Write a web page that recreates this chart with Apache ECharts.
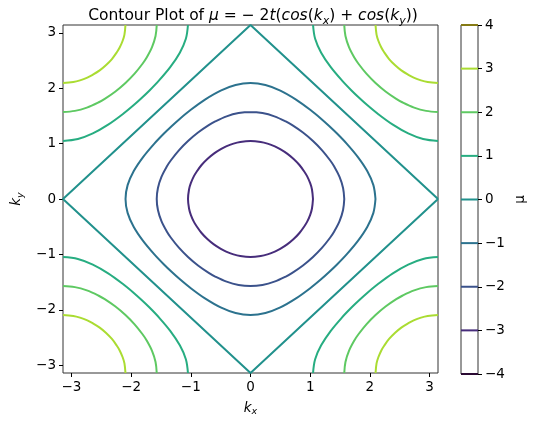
<!DOCTYPE html>
<html>
<head>
<meta charset="utf-8">
<script src="https://cdn.jsdelivr.net/npm/echarts@6/dist/echarts.min.js"></script>
<style>
  html, body { margin: 0; padding: 0; background: #fff; }
  #chart { width: 534px; height: 421px; }
</style>
</head>
<body>
<div id="chart"></div>
<script>
// Contour levels of mu and the colorbar range
const levels = [-3, -2, -1, 0, 1, 2, 3];
const colorbarLevels = [-4, -3, -2, -1, 0, 1, 2, 3, 4];
const tickValues = [-3, -2, -1, 0, 1, 2, 3];
const PI = Math.PI;

// First-quadrant pieces of the closed contours around Gamma, [kx, ky] from the kx axis to the ky axis
const arcMinus3 = [[1.047, 0], [1.03, 0.172], [1.0, 0.285], [0.95, 0.408], [0.9, 0.497], [0.82, 0.614],
  [0.723, 0.723], [0.614, 0.82], [0.497, 0.9], [0.408, 0.95], [0.285, 1.0], [0.172, 1.03], [0, 1.047]];
const arcMinus2 = [[1.571, 0], [1.551, 0.2], [1.492, 0.4], [1.4, 0.591], [1.333, 0.7], [1.2, 0.879],
  [1.047, 1.047], [0.879, 1.2], [0.7, 1.333], [0.591, 1.4], [0.4, 1.492], [0.2, 1.551], [0, 1.571]];
const arcMinus1 = [[2.094, 0], [2.059, 0.25], [1.958, 0.5], [1.8, 0.756], [1.611, 1.0], [1.45, 1.182],
  [1.318, 1.318], [1.182, 1.45], [1.0, 1.611], [0.756, 1.8], [0.5, 1.958], [0.25, 2.059], [0, 2.094]];
const arcZero = [[3.1416, 0], [0, 3.1416]];

// Pieces near the (pi, pi) corner of the first quadrant
const arcPlus1 = [[1.048, 3.1416], [1.083, 2.892], [1.184, 2.642], [1.342, 2.385], [1.531, 2.142], [1.692, 1.96],
  [1.824, 1.824], [1.96, 1.692], [2.142, 1.531], [2.385, 1.342], [2.642, 1.184], [2.892, 1.083], [3.1416, 1.048]];
const arcPlus2 = [[1.571, 3.1416], [1.591, 2.942], [1.65, 2.742], [1.742, 2.55], [1.809, 2.442], [1.942, 2.263],
  [2.095, 2.095], [2.263, 1.942], [2.442, 1.809], [2.55, 1.742], [2.742, 1.65], [2.942, 1.591], [3.1416, 1.571]];
const arcPlus3 = [[2.095, 3.1416], [2.112, 2.969], [2.142, 2.857], [2.192, 2.734], [2.242, 2.645], [2.322, 2.527],
  [2.419, 2.419], [2.527, 2.322], [2.645, 2.242], [2.734, 2.192], [2.857, 2.142], [2.969, 2.112], [3.1416, 2.095]];

// viridis colours for -4 ... 4
const viridis = {
  '-4': '#440154', '-3': '#472d7b', '-2': '#3b528b', '-1': '#2c728e',
  '0': '#21918c', '1': '#27ad81', '2': '#5ec962', '3': '#aadc32', '4': '#fde725'
};
// the end lines of the colorbar sit on its frame and blend with it
const frameBlend = { '-4': '#2a0a33', '4': '#857a14' };

const closedArcs = { '-3': arcMinus3, '-2': arcMinus2, '-1': arcMinus1, '0': arcZero };
const cornerArcs = { '1': arcPlus1, '2': arcPlus2, '3': arcPlus3 };

// Reflect a first-quadrant arc into a closed loop around the origin
function closedLoop(q) {
  const pts = [];
  q.forEach(p => pts.push([p[0], p[1]]));
  q.slice(0, -1).reverse().forEach(p => pts.push([-p[0], p[1]]));
  q.slice(1).forEach(p => pts.push([-p[0], -p[1]]));
  q.slice(0, -1).reverse().forEach(p => pts.push([p[0], -p[1]]));
  return pts;
}

const series = [];
levels.forEach(L => {
  const key = String(L);
  if (closedArcs[key]) {
    series.push({
      type: 'line', xAxisIndex: 0, yAxisIndex: 0,
      data: closedLoop(closedArcs[key]),
      showSymbol: false, smooth: L === 0 ? false : 0.35,
      lineStyle: { color: viridis[key], width: 2 }, silent: true
    });
  } else {
    [[1, 1], [-1, 1], [-1, -1], [1, -1]].forEach(([sx, sy]) => {
      series.push({
        type: 'line', xAxisIndex: 0, yAxisIndex: 0,
        data: cornerArcs[key].map(p => [sx * p[0], sy * p[1]]),
        showSymbol: false, smooth: 0.35,
        lineStyle: { color: viridis[key], width: 2 }, silent: true
      });
    });
  }
});

// Colorbar lines
colorbarLevels.forEach(L => {
  const key = String(L);
  series.push({
    type: 'line', xAxisIndex: 1, yAxisIndex: 1,
    data: [[0, L], [1, L]], showSymbol: false, silent: true,
    lineStyle: { color: frameBlend[key] || viridis[key], width: 2 }
  });
});

const fmt = v => String(v).replace('-', '\u2212');
const font = 'DejaVu Sans';
const txt = { fontFamily: font, color: '#000', fontWeight: 'normal' };

const chart = echarts.init(document.getElementById('chart'), null, { renderer: 'canvas' });
chart.setOption({
  animation: false,
  backgroundColor: '#fff',
  title: {
    text: '{n|Contour Plot of }{i|\u03bc}{n| = \u2212 2}{i|t}{n|(}{i|cos}{n|(}{i|k}{s|x}{n|) + }{i|cos}{n|(}{i|k}{s|y}{n|))}',
    left: 248, top: 0, textAlign: 'center',
    textStyle: {
      fontWeight: 'normal',
      rich: {
        n: Object.assign({ fontSize: 15.5, lineHeight: 22 }, txt),
        i: Object.assign({ fontSize: 15.5, lineHeight: 22, fontStyle: 'italic' }, txt),
        s: Object.assign({ fontSize: 11, lineHeight: 12, fontStyle: 'italic', verticalAlign: 'bottom' }, txt)
      }
    }
  },
  grid: [
    { left: 63, top: 25, width: 375, height: 348, show: true, borderColor: '#333', borderWidth: 1,
      backgroundColor: 'transparent', outerBoundsMode: 'none', containLabel: false },
    { left: 461, top: 25, width: 17, height: 349, show: true, borderColor: '#333', borderWidth: 1,
      backgroundColor: 'transparent', outerBoundsMode: 'none', containLabel: false }
  ],
  xAxis: [
    {
      type: 'value', gridIndex: 0, min: -PI, max: PI,
      axisLine: { show: false, onZero: false },
      axisTick: { show: true, inside: false, length: 4, lineStyle: { color: '#000' }, customValues: tickValues },
      axisLabel: { show: true, customValues: tickValues, formatter: fmt, fontFamily: font, fontSize: 13.5, color: '#000', margin: 7 },
      splitLine: { show: false },
      name: '{i|k}{s|x}', nameLocation: 'middle', nameGap: 26,
      nameTextStyle: {
        rich: {
          i: Object.assign({ fontSize: 13.5, lineHeight: 18, fontStyle: 'italic' }, txt),
          s: Object.assign({ fontSize: 9.5, lineHeight: 10, fontStyle: 'italic', verticalAlign: 'bottom' }, txt)
        }
      }
    },
    { type: 'value', gridIndex: 1, min: 0, max: 1, show: false }
  ],
  yAxis: [
    {
      type: 'value', gridIndex: 0, min: -PI, max: PI,
      axisLine: { show: false, onZero: false },
      axisTick: { show: true, inside: false, length: 4, lineStyle: { color: '#000' }, customValues: tickValues },
      axisLabel: { show: true, customValues: tickValues, formatter: fmt, fontFamily: font, fontSize: 13.5, color: '#000', margin: 7 },
      splitLine: { show: false },
      name: '{i|k}{s|y}', nameLocation: 'middle', nameGap: 35, nameRotate: 90,
      nameTextStyle: {
        rich: {
          i: Object.assign({ fontSize: 13.5, lineHeight: 18, fontStyle: 'italic' }, txt),
          s: Object.assign({ fontSize: 9.5, lineHeight: 10, fontStyle: 'italic', verticalAlign: 'bottom' }, txt)
        }
      }
    },
    {
      type: 'value', gridIndex: 1, min: -4, max: 4, interval: 1, position: 'right',
      axisLine: { show: false, onZero: false },
      axisTick: { show: true, inside: false, length: 4, lineStyle: { color: '#000' } },
      axisLabel: { show: true, formatter: fmt, fontFamily: font, fontSize: 13.5, color: '#000', margin: 7 },
      splitLine: { show: false },
      name: '\u03bc', nameLocation: 'middle', nameGap: 35, nameRotate: 90,
      nameTextStyle: { fontFamily: font, fontSize: 13.5, color: '#000' }
    }
  ],
  series: series
});
</script>
</body>
</html>
